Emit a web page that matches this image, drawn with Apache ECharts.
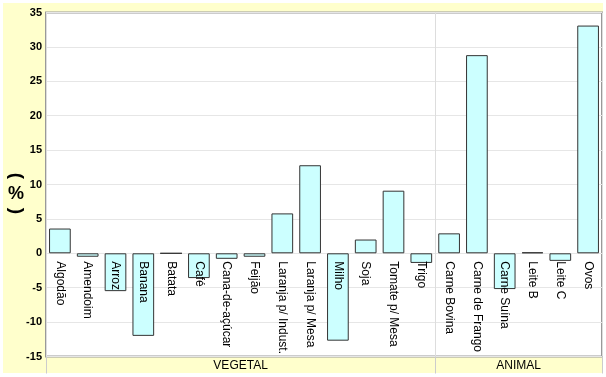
<!DOCTYPE html>
<html>
<head>
<meta charset="utf-8">
<script src="https://cdn.jsdelivr.net/npm/echarts@6/dist/echarts.min.js"></script>
<style>html,body{margin:0;padding:0;background:#fff;}#c{width:606px;height:377px;}</style>
</head>
<body>
<div id="c"></div>
<script>
const categories = ['Algodão','Amendoim','Arroz','Banana','Batata','Café','Cana-de-açúcar','Feijão','Laranja p/ Indust.','Laranja p/ Mesa','Milho','Soja','Tomate p/ Mesa','Trigo','Carne Bovina','Carne de Frango','Carne Suína','Leite B','Leite C','Ovos'];
const values = [3.6,-0.5,-5.5,-12.0,0,-3.6,-0.8,-0.5,5.8,12.8,-12.7,2.0,9.1,-1.4,2.9,28.8,-5.2,0.15,-1.1,33.1];
const groupNames = ['VEGETAL','ANIMAL'];
const groupSizes = [14,6];
const yTicks = {min:-15, max:35, interval:5};

const total = groupSizes.reduce((a,b)=>a+b,0);
const groupBounds = [0, groupSizes[0], total];
const groupCenters = [groupSizes[0]/2, groupSizes[0]+groupSizes[1]/2];

const W = 606, H = 377;
const G = {left:46, top:12.5, right:4, bottom:20.5};
const plotH = H - G.top - G.bottom;
const zeroOffset = plotH * yTicks.max / (yTicks.max - yTicks.min);

const chart = echarts.init(document.getElementById('c'), null, {renderer:'canvas'});
const FONT = 'Liberation Sans, Arial, sans-serif';
chart.setOption({
  backgroundColor:'#fff',
  animation:false,
  graphic:[
    {type:'rect', shape:{x:3,y:3,width:600,height:370}, style:{fill:'#FFFFCC'}, z:-10, silent:true},
    {type:'text', x:16, y:176, rotation:-Math.PI/2, style:{text:'(', font:'bold 19px '+FONT, fill:'#000', align:'center', verticalAlign:'middle'}},
    {type:'text', x:16, y:194, style:{text:'%', font:'bold 18px '+FONT, fill:'#000', align:'center', verticalAlign:'middle'}},
    {type:'text', x:16, y:211, rotation:-Math.PI/2, style:{text:')', font:'bold 19px '+FONT, fill:'#000', align:'center', verticalAlign:'middle'}}
  ],
  grid:{left:G.left, top:G.top, right:G.right, bottom:G.bottom, containLabel:false, outerBoundsMode:'none',
    show:true, backgroundColor:'#fff', borderColor:'#999', borderWidth:2},
  xAxis:[
    {type:'category', data:categories, position:'top', offset:-zeroOffset, z:10,
     axisLine:{show:false, onZero:false}, axisTick:{show:false},
     axisLabel:{rotate:90, inside:true, interval:0, margin:8, fontFamily:FONT, fontSize:12, color:'#000'}, splitLine:{show:false}},
    {type:'value', min:0, max:total, interval:groupSizes[0], position:'bottom', offset:17,
     axisLine:{show:false, onZero:false},
     axisTick:{show:true, inside:true, customValues:groupBounds, length:17, lineStyle:{color:'#ccc', width:1}},
     splitLine:{show:true, lineStyle:{color:'#ddd', width:1}},
     axisLabel:{customValues:groupCenters, inside:true, margin:2, fontFamily:FONT, fontSize:12, color:'#000',
       formatter:function(v){ return v===groupCenters[0]?groupNames[0]:(v===groupCenters[1]?groupNames[1]:''); }}}
  ],
  yAxis:{type:'value', min:yTicks.min, max:yTicks.max, interval:yTicks.interval,
    axisLine:{show:false, onZero:false}, axisTick:{show:false},
    axisLabel:{fontFamily:FONT, fontSize:11, fontWeight:'bold', color:'#000', margin:4},
    splitLine:{lineStyle:{color:'#e6e6e6', width:1}}},
  series:[{type:'bar', data:values, xAxisIndex:0, barCategoryGap:'22%',
    itemStyle:{color:'#CCFFFF', borderColor:'#333', borderWidth:1}}]
});
</script>
</body>
</html>
